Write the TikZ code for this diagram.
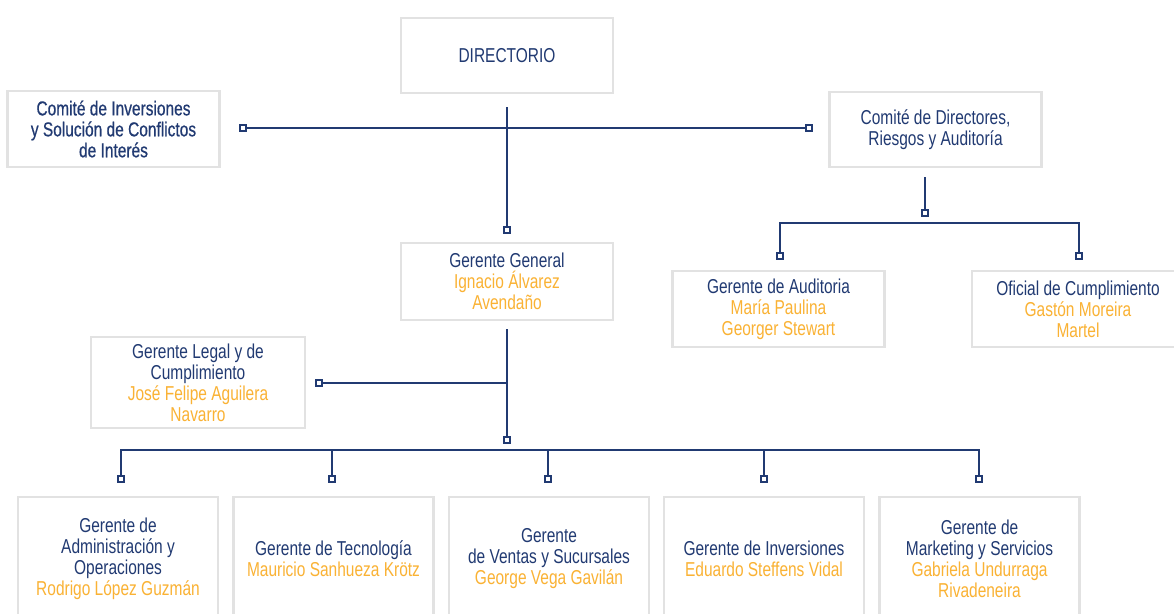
\documentclass[tikz,border=0pt]{standalone}
\usepackage{fontspec}
\setmainfont{Liberation Sans}[FakeStretch=0.77]
\newfontfamily\medfont{Liberation Sans}[FakeStretch=0.77,FakeBold=0.6]
\usepackage{xcolor}
\usepackage{tikz}

\definecolor{navy}{RGB}{33,58,114}
\definecolor{gold}{RGB}{250,178,52}
\definecolor{boxgray}{RGB}{226,226,226}
\newcommand{\nm}[1]{\textcolor{gold}{#1}}

\tikzset{
  box/.style={draw=boxgray,line width=2pt,fill=white,align=center,text=navy,
    font=\fontsize{14.3}{14.9}\selectfont,inner sep=2pt},
  pin/.style={draw=navy,fill=white,line width=0.8pt,minimum size=0.15cm,inner sep=0pt},
  link/.style={draw=navy,line width=1.1pt}
}

\begin{document}
\begin{tikzpicture}[x=0.025cm,y=-0.025cm]
    \useasboundingbox (0,0) rectangle (1174,613);
    \clip (0,0) rectangle (1174,613);
    % top level
    \node[box,minimum width=5.3cm,minimum height=1.875cm] (dir) at (507,55.5) {DIRECTORIO};
    \node[box,minimum width=5.3cm,minimum height=1.9cm] (cinv) at (113.5,129) {\medfont Comité de Inversiones\\\medfont y Solución de Conflictos\\\medfont de Interés};
    \node[box,minimum width=5.3cm,minimum height=1.875cm] (cdir) at (935.5,129.5) {Comité de Directores,\\Riesgos y Auditoría};
    % second level
    \node[box,minimum width=5.3cm,minimum height=1.925cm] (gg) at (507,281.5) {Gerente General\\\nm{Ignacio Álvarez}\\\nm{Avendaño}};
    \node[box,minimum width=5.35cm,minimum height=2.275cm] (legal) at (198,382.5) {Gerente Legal y de\\Cumplimiento\\\nm{José Felipe Aguilera}\\\nm{Navarro}};
    \node[box,minimum width=5.3cm,minimum height=1.9cm] (aud) at (778.5,309) {Gerente de Auditoria\\\nm{María Paulina}\\\nm{Georger Stewart}};
    \node[box,minimum width=5.3cm,minimum height=1.9cm] (ofi) at (1078,309) {Oficial de Cumplimiento\\\nm{Gastón Moreira}\\\nm{Martel}};
    % gerencias
    \node[box,minimum width=5cm,minimum height=3.1cm] (adm) at (118,559) {Gerente de\\Administración y\\Operaciones\\\nm{Rodrigo López Guzmán}};
    \node[box,minimum width=5cm,minimum height=3.1cm] (tec) at (333.5,559) {Gerente de Tecnología\\\nm{Mauricio Sanhueza Krötz}};
    \node[box,minimum width=5cm,minimum height=3.1cm] (ven) at (549,559) {Gerente\\de Ventas y Sucursales\\\nm{George Vega Gavilán}};
    \node[box,minimum width=5cm,minimum height=3.1cm] (inv) at (764,559) {Gerente de Inversiones\\\nm{Eduardo Steffens Vidal}};
    \node[box,minimum width=5cm,minimum height=3.1cm] (mkt) at (979.5,559) {Gerente de\\Marketing y Servicios\\\nm{Gabriela Undurraga}\\\nm{Rivadeneira}};

    % directorio
    \coordinate (dtop) at (507,107);
    \coordinate (dmid) at (507,128);
    \node[pin] (pcinv) at (243,128) {};
    \node[pin] (pcdir) at (809,128) {};
    \node[pin] (pgg) at (507,230) {};
    \draw[link] (pcinv) to (pcdir);
    \draw[link] (dtop) to (pgg);

    % comite de directores
    \coordinate (ctop) at (925,177);
    \node[pin] (pc) at (925,213) {};
    \coordinate (cl) at (780,223);
    \coordinate (cr) at (1079,223);
    \node[pin] (paud) at (780,256) {};
    \node[pin] (pofi) at (1079,256) {};
    \draw[link] (ctop) to (pc);
    \draw[link] (paud) |- (cl) to (cr) -| (pofi);

    % gerente general
    \coordinate (gtop) at (507,329);
    \coordinate (gmid) at (507,383);
    \node[pin] (plegal) at (319,383) {};
    \node[pin] (pbus) at (507,440) {};
    \draw[link] (gtop) to (pbus);
    \draw[link] (plegal) to (gmid);

    % bus
    \coordinate (bl) at (121,450);
    \coordinate (br) at (979,450);
    \node[pin] (padm) at (121,479) {};
    \node[pin] (ptec) at (332,479) {};
    \node[pin] (pven) at (548,479) {};
    \node[pin] (pinv) at (764,479) {};
    \node[pin] (pmkt) at (979,479) {};
    \draw[link] (padm) |- (bl) to (br) -| (pmkt);
    \draw[link] (ptec) to (332,450);
    \draw[link] (pven) to (548,450);
    \draw[link] (pinv) to (764,450);
\end{tikzpicture}
\end{document}
